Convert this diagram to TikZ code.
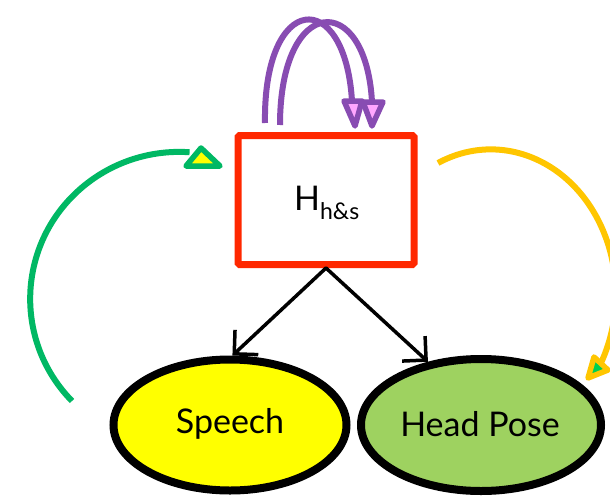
\documentclass[tikz,border=0pt]{standalone}
\usepackage{fontspec}
\setmainfont{Lato}
\usetikzlibrary{shapes.geometric,arrows.meta}
\definecolor{boxred}{RGB}{255,40,0}
\definecolor{loopviolet}{RGB}{136,76,178}
\definecolor{loopfill}{RGB}{255,166,255}
\definecolor{fbgreen}{RGB}{0,184,100}
\definecolor{fbyellow}{RGB}{255,255,0}
\definecolor{ffgold}{RGB}{255,198,0}
\definecolor{ffgreen}{RGB}{0,208,80}
\definecolor{poseg}{RGB}{158,210,96}
\tikzset{
  hidden/.style={draw=boxred,line width=7pt,minimum width=176pt,minimum height=129pt,rounded corners=1.5pt},
  obs/.style={ellipse,draw=black,line width=8pt,inner sep=0pt},
  emit/.style={draw=black,line width=3.5pt,line cap=round,-{Straight Barb[length=17pt,width=34pt,line width=3.5pt]}},
  tri/.style={line width=5.5pt,line join=round},
  lbl/.style={font=\fontsize{34}{36}\selectfont},
}
\begin{document}
\begin{tikzpicture}[x=1pt,y=-1pt]
\useasboundingbox (0,0) rectangle (610,495);
\fill[white] (0,0) rectangle (610,495);

% hidden state
\node[hidden] (h) at (326,200) {};
\node[lbl] (hl) at (327,203) {H\textsubscript{\fontsize{23}{25}\selectfont h\&s}};

% observations
\node[obs,fill=fbyellow,minimum width=233pt,minimum height=131pt] (sp) at (230,425) {};
\node[lbl] (spl) at (230,424) {Speech};
\node[obs,fill=poseg,minimum width=240pt,minimum height=132pt] (hp) at (481,425) {};
\node[lbl] (hpl) at (480,424) {Head Pose};

% emissions
\draw[emit] (h.south) -- (sp.88);
\draw[emit] (h.south) -- (hp.130);

% self transition (two loops)
\coordinate (la) at (265,123);
\coordinate (lb) at (352,101);
\coordinate (ra) at (280,125);
\coordinate (rb) at (372,102);
\draw[loopviolet,line width=6pt] (la) .. controls (263,-8) and (345,-14) .. (lb);
\draw[loopviolet,line width=6pt] (ra) .. controls (280,-6) and (366,-10) .. (rb);
\draw[tri,draw=loopviolet,fill=loopfill] (344,101) -- (362,101) -- (355,126) -- cycle;
\draw[tri,draw=loopviolet,fill=loopfill] (363,102) -- (383,102) -- (372,126) -- cycle;

% feedback arc into the hidden state
\coordinate (gs) at (72,401);
\draw[fbgreen,line width=6pt] (gs) arc[start angle=224,end angle=86,x radius=149,y radius=-147];
\draw[tri,draw=fbgreen,fill=fbyellow] (201,148) -- (186,166) -- (220,166) -- cycle;

% forward arc out of the hidden state
\coordinate (os) at (438,163);
\draw[ffgold,line width=6pt] (os) arc[start angle=115,end angle=-31,x radius=125,y radius=-145];
\draw[tri,draw=ffgold,fill=ffgreen] (588,378) -- (594,357) -- (608,370) -- cycle;
\end{tikzpicture}
\end{document}
